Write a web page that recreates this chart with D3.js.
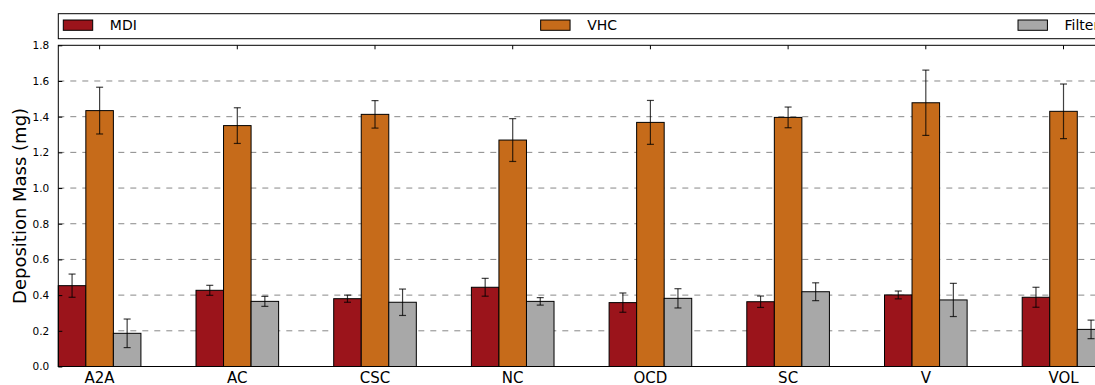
<!DOCTYPE html>
<html>
<head>
<meta charset="utf-8">
<script src="https://cdn.jsdelivr.net/npm/d3@7"></script>
<style>
  html, body { margin: 0; padding: 0; background: #fff; }
  svg { display: block; font-family: "DejaVu Sans", sans-serif; }
</style>
</head>
<body>
<svg id="chart" width="1095" height="385"></svg>
<script>
// Deposition mass per group, with error bars
const categories = ["A2A", "AC", "CSC", "NC", "OCD", "SC", "V", "VOL"];
const seriesNames = ["MDI", "VHC", "Filter"];
const mdiValues    = [0.453, 0.427, 0.380, 0.444, 0.358, 0.363, 0.401, 0.388];
const mdiErrors    = [0.065, 0.028, 0.020, 0.050, 0.054, 0.032, 0.022, 0.056];
const vhcValues    = [1.434, 1.350, 1.413, 1.269, 1.368, 1.396, 1.478, 1.430];
const vhcErrors    = [0.131, 0.100, 0.077, 0.120, 0.123, 0.058, 0.183, 0.153];
const filterValues = [0.186, 0.365, 0.360, 0.365, 0.382, 0.419, 0.373, 0.208];
const filterErrors = [0.080, 0.028, 0.074, 0.021, 0.054, 0.050, 0.093, 0.052];
const yTicks = [0.0, 0.2, 0.4, 0.6, 0.8, 1.0, 1.2, 1.4, 1.6, 1.8];
const yLabel = "Deposition Mass (mg)";

const colors = ["#9b141b", "#c66b1a", "#a8a8a8"];
const barWidth = 0.2;

const series = [
  { name: seriesNames[0], values: mdiValues, errors: mdiErrors, color: colors[0] },
  { name: seriesNames[1], values: vhcValues, errors: vhcErrors, color: colors[1] },
  { name: seriesNames[2], values: filterValues, errors: filterErrors, color: colors[2] }
];

const svg = d3.select("#chart");

const plotLeft = 58.3, plotTop = 45.3, plotBottom = 366.5;
const unit = 137.7;
const xMax = 10.4;
const plotRight = plotLeft + xMax * unit;

const x = d3.scaleLinear().domain([0, xMax]).range([plotLeft, plotRight]);
const y = d3.scaleLinear().domain([0, 1.8]).range([plotBottom, plotTop]);

// dashed horizontal grid
svg.append("g").selectAll("line")
  .data(yTicks.filter(t => t > 0 && t < 1.8))
  .join("line")
  .attr("x1", plotLeft).attr("x2", plotRight)
  .attr("y1", d => y(d)).attr("y2", d => y(d))
  .attr("stroke", "#888")
  .attr("stroke-width", 1)
  .attr("stroke-dasharray", "6,6");

// bars
series.forEach((s, si) => {
  svg.append("g").selectAll("rect")
    .data(s.values)
    .join("rect")
    .attr("x", (d, i) => x(i + si * barWidth))
    .attr("width", x(barWidth) - x(0))
    .attr("y", d => y(d))
    .attr("height", d => y(0) - y(d))
    .attr("fill", s.color)
    .attr("stroke", "#000")
    .attr("stroke-width", 1);
});

// error bars
series.forEach((s, si) => {
  const g = svg.append("g").attr("stroke", "#000").attr("stroke-opacity", 0.75).attr("stroke-width", 1.2);
  s.values.forEach((v, i) => {
    const cx = x(i + si * barWidth + barWidth / 2);
    const lo = y(v - s.errors[i]), hi = y(v + s.errors[i]);
    g.append("line").attr("x1", cx).attr("x2", cx).attr("y1", lo).attr("y2", hi);
    g.append("line").attr("x1", cx - 3.5).attr("x2", cx + 3.5).attr("y1", lo).attr("y2", lo);
    g.append("line").attr("x1", cx - 3.5).attr("x2", cx + 3.5).attr("y1", hi).attr("y2", hi);
  });
});

// frame
svg.append("rect")
  .attr("x", plotLeft).attr("y", plotTop)
  .attr("width", plotRight - plotLeft).attr("height", plotBottom - plotTop)
  .attr("fill", "none").attr("stroke", "#000").attr("stroke-width", 1);

// y axis (inward ticks)
const yAxis = d3.axisLeft(y).tickValues(yTicks).tickFormat(d3.format(".1f")).tickSizeInner(-4).tickSizeOuter(0).tickPadding(9);
const yg = svg.append("g").attr("transform", `translate(${plotLeft},0)`).call(yAxis);
yg.select(".domain").remove();
yg.selectAll("text").attr("font-size", 10.5).attr("fill", "#000").attr("font-family", "DejaVu Sans");
yg.selectAll(".tick line").attr("stroke", "#000");

// category ticks along the top edge
const tickPos = categories.map((c, i) => i + 1.5 * barWidth);
svg.append("g").selectAll("line")
  .data(tickPos)
  .join("line")
  .attr("x1", d => x(d)).attr("x2", d => x(d))
  .attr("y1", plotTop).attr("y2", plotTop + 4)
  .attr("stroke", "#000");

// category labels
svg.append("g").selectAll("text")
  .data(categories)
  .join("text")
  .attr("x", (d, i) => x(tickPos[i]))
  .attr("y", 383.3)
  .attr("text-anchor", "middle")
  .attr("font-size", 15)
  .attr("fill", "#000")
  .text(d => d);

// y axis title
svg.append("text")
  .attr("transform", `translate(26,${(plotTop + plotBottom) / 2}) rotate(-90)`)
  .attr("text-anchor", "middle")
  .attr("font-size", 18)
  .attr("fill", "#000")
  .text(yLabel);

// legend across the top
const legendTop = 13.7, legendHeight = 25;
svg.append("rect")
  .attr("x", plotLeft).attr("y", legendTop)
  .attr("width", plotRight - plotLeft).attr("height", legendHeight)
  .attr("fill", "#fff").attr("stroke", "#000").attr("stroke-width", 1);
const colWidth = (plotRight - plotLeft) / series.length;
const legend = svg.append("g").selectAll("g")
  .data(series)
  .join("g")
  .attr("transform", (d, i) => `translate(${plotLeft + 5 + i * colWidth},0)`);
legend.append("rect")
  .attr("x", 0).attr("y", 20).attr("width", 29.4).attr("height", 10.3)
  .attr("fill", d => d.color).attr("stroke", "#000").attr("stroke-width", 1);
legend.append("text")
  .attr("x", 46.5).attr("y", 30)
  .attr("font-size", 14)
  .attr("fill", "#000")
  .text(d => d.name);
</script>
</body>
</html>
